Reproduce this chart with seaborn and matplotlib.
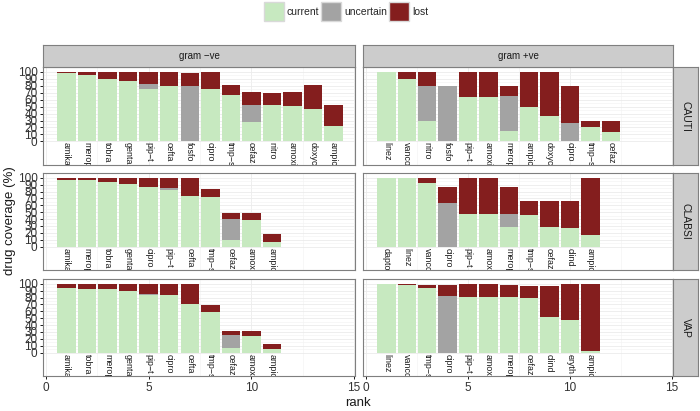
import matplotlib
matplotlib.use("Agg")
import matplotlib.pyplot as plt
from matplotlib.patches import Patch
import seaborn as sns
import pandas as pd

# colours of the three coverage states
GREEN = "#C7E9C0"
GREY = "#A3A3A3"
RED = "#841E1E"

infections = ["CAUTI", "CLABSI", "VAP"]
grams = ["gram \u2212ve", "gram +ve"]

# CAUTI, gram -ve
cauti_neg_drugs = ["amika", "merop", "tobra", "genta", "pip\u2212t", "cefta", "fosfo",
                   "cipro", "tmp\u2212s", "cefaz", "nitro", "amoxi", "doxyc", "ampic"]
cauti_neg_current = [98, 96, 90, 87, 75, 80, 0, 76, 66, 28, 52, 51, 47, 22]
cauti_neg_uncertain = [0, 0, 0, 0, 8, 0, 80, 0, 0, 25, 0, 0, 0, 0]
cauti_neg_lost = [2, 4, 10, 13, 17, 20, 19, 24, 15, 18, 18, 20, 34, 30]

# CAUTI, gram +ve
cauti_pos_drugs = ["linez", "vanco", "nitro", "fosfo", "pip\u2212t", "amoxi", "merop",
                   "ampic", "doxyc", "cipro", "tmp\u2212s", "cefaz"]
cauti_pos_current = [100, 90, 29, 0, 64, 64, 15, 49, 36, 0, 21, 14]
cauti_pos_uncertain = [0, 0, 50, 79, 0, 0, 50, 0, 0, 26, 0, 0]
cauti_pos_lost = [0, 10, 21, 0, 36, 36, 14, 51, 64, 53, 8, 15]

# CLABSI, gram -ve
clabsi_neg_drugs = ["amika", "merop", "tobra", "genta", "cipro", "pip\u2212t", "cefta",
                    "tmp\u2212s", "cefaz", "amoxi", "ampic"]
clabsi_neg_current = [97, 97, 94, 91, 87, 82, 74, 72, 9, 39, 7]
clabsi_neg_uncertain = [0, 0, 0, 0, 0, 3, 0, 0, 31, 0, 0]
clabsi_neg_lost = [3, 3, 6, 9, 13, 15, 26, 12, 9, 10, 12]

# CLABSI, gram +ve
clabsi_pos_drugs = ["dapto", "linez", "vanco", "cipro", "pip\u2212t", "amoxi", "merop",
                    "tmp\u2212s", "cefaz", "clind", "ampic"]
clabsi_pos_current = [100, 100, 93, 0, 47, 47, 29, 46, 29, 27, 17]
clabsi_pos_uncertain = [0, 0, 0, 63, 0, 0, 18, 0, 0, 0, 0]
clabsi_pos_lost = [0, 0, 7, 23, 53, 53, 39, 20, 37, 39, 83]

# VAP, gram -ve
vap_neg_drugs = ["amika", "tobra", "merop", "genta", "pip\u2212t", "cipro", "cefta",
                 "tmp\u2212s", "cefaz", "amoxi", "ampic"]
vap_neg_current = [94, 93, 93, 89, 84, 84, 70, 59, 6, 24, 5]
vap_neg_uncertain = [0, 0, 0, 0, 1, 0, 0, 0, 19, 0, 0]
vap_neg_lost = [6, 7, 7, 11, 15, 16, 30, 10, 6, 7, 8]

# VAP, gram +ve
vap_pos_drugs = ["linez", "vanco", "tmp\u2212s", "cipro", "pip\u2212t", "amoxi", "merop",
                 "cefaz", "clind", "eryth", "ampic"]
vap_pos_current = [100, 99, 94, 0, 81, 81, 81, 79, 52, 48, 2]
vap_pos_uncertain = [0, 0, 0, 83, 0, 0, 0, 0, 0, 0, 0]
vap_pos_lost = [0, 1, 4, 16, 19, 19, 18, 18, 45, 52, 98]

panels = {
    ("CAUTI", 0): (cauti_neg_drugs, cauti_neg_current, cauti_neg_uncertain, cauti_neg_lost),
    ("CAUTI", 1): (cauti_pos_drugs, cauti_pos_current, cauti_pos_uncertain, cauti_pos_lost),
    ("CLABSI", 0): (clabsi_neg_drugs, clabsi_neg_current, clabsi_neg_uncertain, clabsi_neg_lost),
    ("CLABSI", 1): (clabsi_pos_drugs, clabsi_pos_current, clabsi_pos_uncertain, clabsi_pos_lost),
    ("VAP", 0): (vap_neg_drugs, vap_neg_current, vap_neg_uncertain, vap_neg_lost),
    ("VAP", 1): (vap_pos_drugs, vap_pos_current, vap_pos_uncertain, vap_pos_lost),
}

sns.set_theme(style="white")
plt.rcParams["font.family"] = ["Liberation Sans", "DejaVu Sans"]

W, H = 700, 411
fig = plt.figure(figsize=(W / 100, H / 100), dpi=100)

col_x = [(43, 355), (363, 673)]
row_y = [(67, 165), (173, 270), (279, 376)]
BORDER = "#7F7F7F"
STRIP = "#CCCCCC"
TXT = "#333333"


def fig_rect(x0, y0, x1, y1):
    return [x0 / W, 1 - y1 / H, (x1 - x0) / W, (y1 - y0) / H]


for i, inf in enumerate(infections):
    for j in range(2):
        drugs, current, uncertain, lost = panels[(inf, j)]
        df = pd.DataFrame({"drug": drugs, "current": current,
                           "uncertain": uncertain, "lost": lost})
        df["rank"] = range(1, len(df) + 1)
        df["mid"] = df["current"] + df["uncertain"]
        df["top"] = df["mid"] + df["lost"]

        (x0, x1), (y0, y1) = col_x[j], row_y[i]
        ax = fig.add_axes(fig_rect(x0, y0, x1, y1))
        for col, colour in [("top", RED), ("mid", GREY), ("current", GREEN)]:
            sns.barplot(data=df, x="rank", y=col, native_scale=True, color=colour,
                        saturation=1, width=0.9, errorbar=None, linewidth=0,
                        ax=ax, zorder=2)

        for _, r in df.iterrows():
            ax.text(r["rank"], -1.5, r["drug"], rotation=270, ha="center", va="top",
                    fontsize=6.4, color="#1A1A1A", clip_on=True)

        ax.set_xlim(-0.15, 15.05)
        ax.set_ylim(-34, 107)
        ax.set_xticks([0, 5, 10, 15])
        ax.set_xticks([2.5, 7.5, 12.5], minor=True)
        ax.set_yticks(range(0, 101, 10))
        ax.set_yticks(range(5, 100, 10), minor=True)
        ax.set_axisbelow(True)
        ax.grid(which="major", color="#EBEBEB", lw=0.6)
        ax.grid(which="minor", color="#F2F2F2", lw=0.4)
        ax.set_xlabel("")
        ax.set_ylabel("")
        for s in ax.spines.values():
            s.set_color(BORDER)
            s.set_linewidth(0.8)

        ax.tick_params(which="minor", length=0)
        ax.tick_params(axis="y", length=2.5, width=0.7, color="#1A1A1A",
                       labelsize=8.5, labelcolor=TXT, pad=1.5, left=(j == 0),
                       labelleft=(j == 0))
        ax.tick_params(axis="x", length=2.5, width=0.7, color="#1A1A1A",
                       labelsize=8.5, labelcolor=TXT, pad=1.5, bottom=(i == 2),
                       labelbottom=(i == 2))

        # column strip on top
        if i == 0:
            sax = fig.add_axes(fig_rect(x0, 45, x1, 67))
            sax.set_facecolor(STRIP)
            sax.set_xticks([])
            sax.set_yticks([])
            for s in sax.spines.values():
                s.set_color(BORDER)
                s.set_linewidth(0.8)
            sax.text(0.5, 0.5, grams[j], ha="center", va="center",
                     fontsize=7, color="#1A1A1A", transform=sax.transAxes)

        # row strip on the right
        if j == 1:
            rax = fig.add_axes(fig_rect(673, y0, 698, y1))
            rax.set_facecolor(STRIP)
            rax.set_xticks([])
            rax.set_yticks([])
            for s in rax.spines.values():
                s.set_color(BORDER)
                s.set_linewidth(0.8)
            rax.text(0.5, 0.5, inf, ha="center", va="center", rotation=270,
                     fontsize=7.5, color="#1A1A1A", transform=rax.transAxes)

fig.text(358 / W, 1 - 403 / H, "rank", ha="center", va="center", fontsize=9.5, color="#1A1A1A")
fig.text(10 / W, 1 - 221 / H, "drug coverage (%)", ha="center", va="center",
         rotation=90, fontsize=9.5, color="#1A1A1A")

handles = [Patch(facecolor=GREEN, edgecolor="#D9D9D9", label="current"),
           Patch(facecolor=GREY, edgecolor="#D9D9D9", label="uncertain"),
           Patch(facecolor=RED, edgecolor="#D9D9D9", label="lost")]
fig.legend(handles=handles, loc="upper center", bbox_to_anchor=(346 / W, 1.0),
           ncol=3, frameon=False, fontsize=7.5, handlelength=1.9, handleheight=2.4,
           handletextpad=0.3, columnspacing=0.2, borderaxespad=0.1, borderpad=0.1)

fig.savefig("out.png", dpi=100)
